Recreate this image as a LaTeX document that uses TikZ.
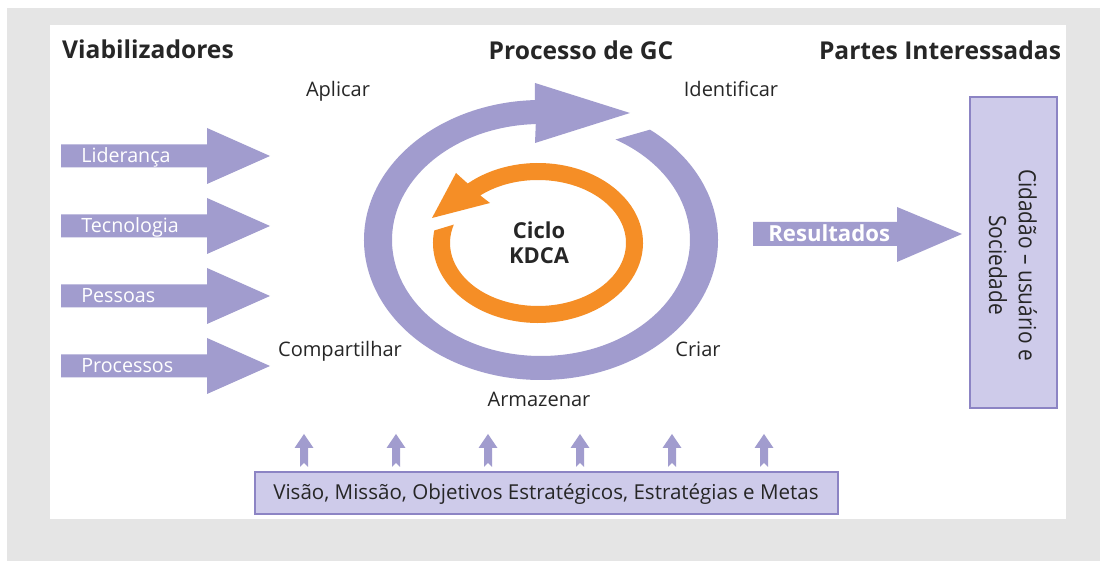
\documentclass[tikz,border=0pt]{standalone}
\usepackage{fontspec}
\setmainfont{Open Sans}
\newfontfamily\narrowfont[FakeStretch=0.88]{Open Sans}
\definecolor{kmpurple}{RGB}{161,156,206}
\definecolor{kmlight}{RGB}{206,203,234}
\definecolor{kmborder}{RGB}{140,132,196}
\definecolor{kmorange}{RGB}{245,142,38}
\definecolor{kmgray}{RGB}{229,229,229}
\definecolor{txtgray}{RGB}{38,38,38}

\begin{document}
\begin{tikzpicture}[x=0.02cm, y=0.02cm,
    bigarrow/.style={fill=kmpurple},
    armtext/.style={anchor=base west, inner xsep=0pt, text=white, font=\fontsize{11.2}{13}\selectfont},
    steplabel/.style={anchor=base, text=txtgray, font=\fontsize{11.4}{13}\selectfont},
    heading/.style={anchor=base, text=txtgray, font=\bfseries\fontsize{14}{17}\selectfont},
    panel/.style={fill=kmlight, draw=kmborder, line width=0.9pt}]
    \useasboundingbox (0,0) rectangle (1100,561);
    % background
    \fill[kmgray] (7,0) rectangle (1100,553);
    \fill[white] (50,42) rectangle (1066,536);
    % headings
    \node[heading] (viab) at (148,502) {Viabilizadores};
    \node[heading] (proc) at (581,501) {Processo de GC};
    \node[heading] (partes) at (940,501) {Partes Interessadas};
    % enablers
    \fill[bigarrow] (61,416.5) -- (207,416.5) -- (207,433) -- (270,405) -- (207,377) -- (207,393.5) -- (61,393.5) -- cycle;
    \fill[bigarrow] (61,346.5) -- (207,346.5) -- (207,363) -- (270,335) -- (207,307) -- (207,323.5) -- (61,323.5) -- cycle;
    \fill[bigarrow] (61,276.5) -- (207,276.5) -- (207,293) -- (270,265) -- (207,237) -- (207,253.5) -- (61,253.5) -- cycle;
    \fill[bigarrow] (61,206.5) -- (207,206.5) -- (207,223) -- (270,195) -- (207,167) -- (207,183.5) -- (61,183.5) -- cycle;
    \node[armtext] (lid) at (81,398) {Liderança};
    \node[armtext] (tec) at (81,328) {Tecnologia};
    \node[armtext] (pes) at (81,258) {Pessoas};
    \node[armtext] (prc) at (81,188) {Processos};
    % KM process ring
    \fill[kmpurple] ({541+177*cos(52)},{321+140*sin(52)}) arc[start angle=52, end angle=-268, x radius=177, y radius=140]
        -- (535,478) -- (630,448) -- (535,418)
        -- ({541+149*cos(92)},{321+116*sin(92)}) arc[start angle=-268, end angle=60, x radius=149, y radius=116] -- cycle;
    % KDCA ring
    \fill[kmorange] ({538+105*cos(171)},{318+80*sin(171)}) arc[start angle=171, end angle=492, x radius=105, y radius=80]
        -- (456,388) -- (432,343) -- (490,358)
        -- ({538+88*cos(131)},{318+63*sin(131)}) arc[start angle=491, end angle=163, x radius=88, y radius=63] -- cycle;
    \node[align=center, text=txtgray, font=\bfseries\fontsize{12.5}{14.2}\selectfont] (kdca) at (539,318) {Ciclo\\KDCA};
    % process steps
    \node[steplabel] (apl) at (338,464) {Aplicar};
    \node[steplabel] (ide) at (731,464) {Identificar};
    \node[steplabel] (com) at (340,204) {Compartilhar};
    \node[steplabel] (cri) at (698,204) {Criar};
    \node[steplabel] (arm) at (539,154) {Armazenar};
    % results
    \fill[bigarrow] (753,339) -- (897,339) -- (897,354) -- (962,327) -- (897,299) -- (897,315) -- (753,315) -- cycle;
    \node[armtext, font=\bfseries\fontsize{12.6}{14}\selectfont] (res) at (768,319) {Resultados};
    \draw[panel] (970,153) rectangle (1057,464);
    \node[rotate=-90, align=center, text=txtgray, font=\narrowfont\fontsize{13.5}{17}\selectfont] (cid) at (1013,296) {Cidadão – usuário e\\Sociedade};
    % strategy base
    \fill[bigarrow] (304,127) -- ++(9.5,-14) -- ++(-5.5,0) -- ++(0,-19) -- ++(-4,4) -- ++(-4,-4) -- ++(0,19) -- ++(-5.5,0) -- cycle;
    \fill[bigarrow] (396,127) -- ++(9.5,-14) -- ++(-5.5,0) -- ++(0,-19) -- ++(-4,4) -- ++(-4,-4) -- ++(0,19) -- ++(-5.5,0) -- cycle;
    \fill[bigarrow] (488,127) -- ++(9.5,-14) -- ++(-5.5,0) -- ++(0,-19) -- ++(-4,4) -- ++(-4,-4) -- ++(0,19) -- ++(-5.5,0) -- cycle;
    \fill[bigarrow] (580,127) -- ++(9.5,-14) -- ++(-5.5,0) -- ++(0,-19) -- ++(-4,4) -- ++(-4,-4) -- ++(0,19) -- ++(-5.5,0) -- cycle;
    \fill[bigarrow] (672,127) -- ++(9.5,-14) -- ++(-5.5,0) -- ++(0,-19) -- ++(-4,4) -- ++(-4,-4) -- ++(0,19) -- ++(-5.5,0) -- cycle;
    \fill[bigarrow] (764,127) -- ++(9.5,-14) -- ++(-5.5,0) -- ++(0,-19) -- ++(-4,4) -- ++(-4,-4) -- ++(0,19) -- ++(-5.5,0) -- cycle;
    \draw[panel] (255,47) rectangle (838,89);
    \node[anchor=base, text=txtgray, font=\fontsize{11.7}{13}\selectfont] (vis) at (546,61) {Visão, Missão, Objetivos Estratégicos, Estratégias e Metas};
\end{tikzpicture}
\end{document}
